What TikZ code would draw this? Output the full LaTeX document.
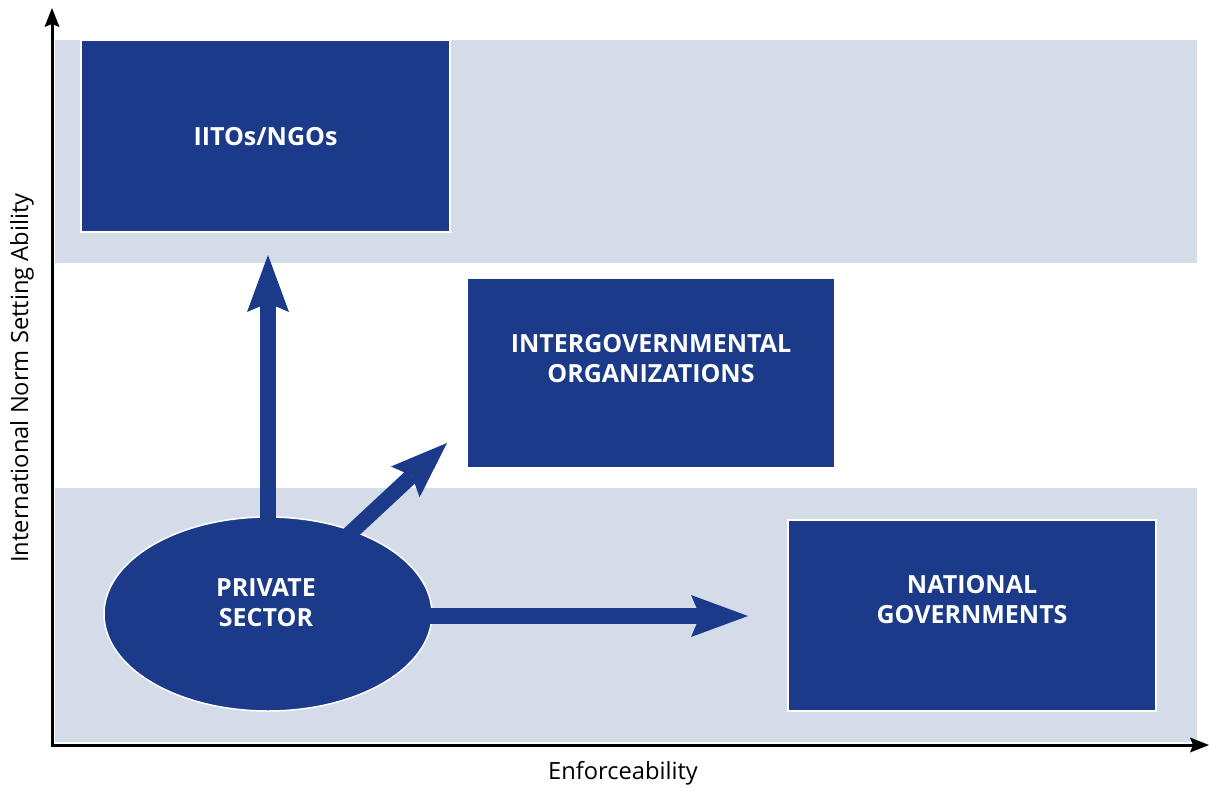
\documentclass[tikz,border=0pt]{standalone}
\usepackage{fontspec}
\setmainfont{Open Sans}
\usetikzlibrary{arrows.meta,shapes.geometric}
\definecolor{navy}{HTML}{1B3A8A}
\definecolor{band}{HTML}{D5DCE9}
\begin{document}
\begin{tikzpicture}[x=1pt,y=-1pt,
  box/.style={rectangle,fill=navy,draw=white,line width=1.5pt,inner sep=0pt},
  oval/.style={ellipse,fill=navy,draw=white,line width=1.5pt,inner sep=0pt,
    minimum width=328pt,minimum height=194pt},
  boxtext/.style={text=white,font=\bfseries\fontsize{25}{30}\selectfont,
    align=center,inner sep=0pt},
  bigarrow/.style={navy,line width=15.5pt,
    -{Stealth[length=57pt,width=42pt,inset=9pt,line width=0pt]}},
  axis/.style={black,line width=3pt,
    -{Stealth[length=19pt,width=15pt,inset=3pt,line width=0pt]}},
  axislabel/.style={font=\fontsize{23.7}{28}\selectfont,inner sep=0pt}]
\useasboundingbox (0,0) rectangle (1209,787);
% background bands
\fill[band] (55,40) rectangle (1197,263);
\fill[band] (55,488) rectangle (1197,742);
% actors
\node[box,minimum width=369pt,minimum height=192pt] (iitos) at (265.5,136) {};
\node[box,minimum width=368pt,minimum height=190pt] (igo) at (651,373) {};
\node[box,minimum width=368pt,minimum height=191pt] (natgov) at (972,615.5) {};
\node[oval] (pv) at (268,614) {};
\node[boxtext] (iitosT) at (265.5,137) {IITOs/NGOs};
\node[boxtext] (igoT) at (651,359) {INTERGOVERNMENTAL\\ORGANIZATIONS};
\node[boxtext] (natgovT) at (972,600) {NATIONAL\\GOVERNMENTS};
\node[boxtext] (pvT) at (266,603) {PRIVATE\\SECTOR};
% arrow end points
\coordinate (upStart) at (268,530);
\coordinate (upTip) at (268,255);
\coordinate (diagStart) at (330,552);
\coordinate (diagTip) at (447,443);
\coordinate (rightStart) at (425,616);
\coordinate (rightTip) at (748,616);
\draw[bigarrow] (upStart) -- (upTip);
\draw[bigarrow] (diagStart) -- (diagTip);
\draw[bigarrow] (rightStart) -- (rightTip);
% axes
\coordinate (origin) at (52,745);
\coordinate (yEnd) at (52,8);
\coordinate (xEnd) at (1209,745);
\draw[axis] ([yshift=1.5pt]origin) -- (yEnd);
\draw[axis] ([xshift=-1.5pt]origin) -- (xEnd);
\node[axislabel] (xlab) at (623,773) {Enforceability};
\node[axislabel,rotate=90] (ylab) at (22,378) {International Norm Setting Ability};
\end{tikzpicture}
\end{document}
